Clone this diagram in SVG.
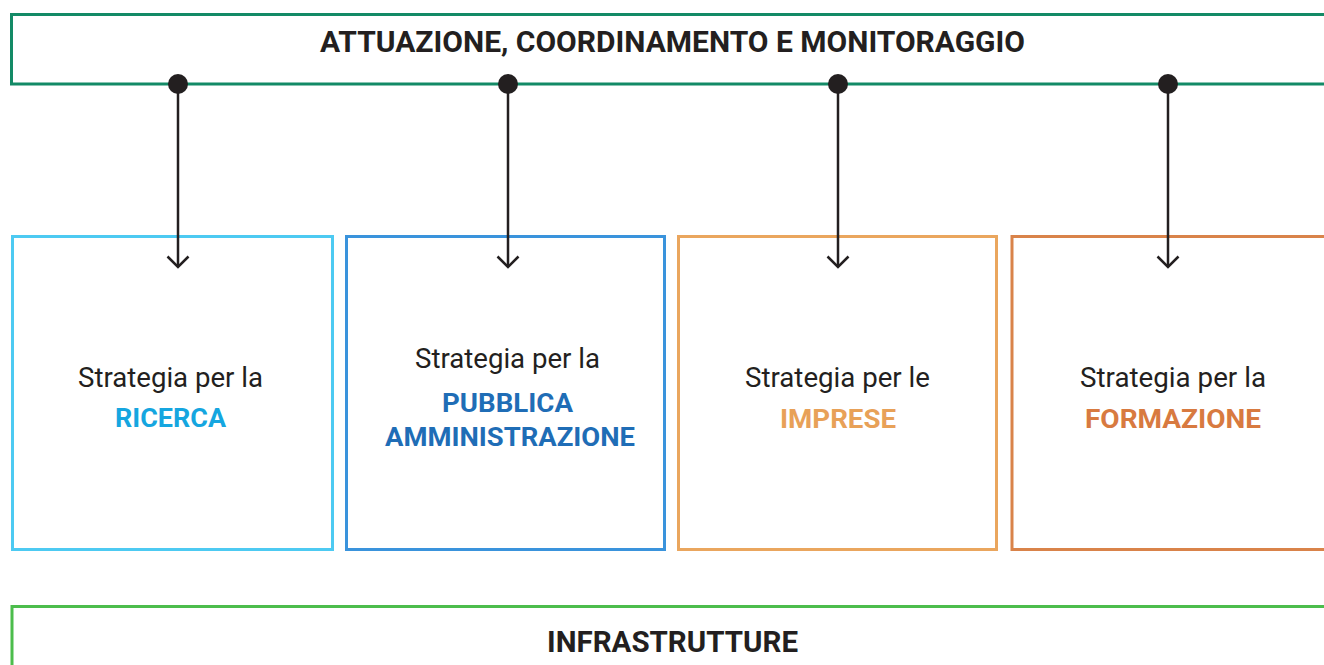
<svg xmlns="http://www.w3.org/2000/svg" width="1324" height="665" viewBox="0 0 1324 665">
<defs>
<style>
.frame{fill:none;stroke-width:3}
.reg{font-family:Roboto,"Noto Sans",sans-serif;font-size:27px;fill:#231f20;text-anchor:middle}
.bold{font-family:Roboto,"Noto Sans",sans-serif;font-weight:bold;font-size:25px;text-anchor:middle}
.head{font-family:Roboto,"Noto Sans",sans-serif;font-weight:bold;font-size:29px;fill:#231f20;text-anchor:middle}
.conn{stroke:#231f20;stroke-width:2.5;fill:none}
.dot{fill:#231f20}
</style>
<marker id="arr" viewBox="0 0 14 24" markerWidth="14" markerHeight="24" refX="12" refY="12" orient="auto" markerUnits="userSpaceOnUse">
<path d="M1.5 1.5 L12 12 L1.5 22.5" fill="none" stroke="#231f20" stroke-width="2.5"/>
</marker>
</defs>
<rect width="1324" height="665" fill="#ffffff"/>
<g id="top">
<path class="frame" stroke="#138a66" d="M1330 14.5 H11.5 V84 H1330"/>
<text class="head" x="672.5" y="52" textLength="705" lengthAdjust="spacingAndGlyphs">ATTUAZIONE, COORDINAMENTO E MONITORAGGIO</text>
</g>
<g id="ricerca">
<rect class="frame" stroke="#4dcaf2" x="12.5" y="236.5" width="320" height="313"/>
<text class="reg" x="170.5" y="387" textLength="185" lengthAdjust="spacingAndGlyphs">Strategia per la</text>
<text class="bold" x="170.5" y="427" fill="#15a6e0" textLength="111" lengthAdjust="spacingAndGlyphs">RICERCA</text>
</g>
<g id="pa">
<rect class="frame" stroke="#3a93dc" x="346.5" y="236.5" width="318" height="313"/>
<text class="reg" x="507.5" y="368" textLength="185" lengthAdjust="spacingAndGlyphs">Strategia per la</text>
<text class="bold" x="507.5" y="412" fill="#1f6db6" textLength="131" lengthAdjust="spacingAndGlyphs">PUBBLICA</text>
<text class="bold" x="510" y="446" fill="#1f6db6" textLength="250" lengthAdjust="spacingAndGlyphs">AMMINISTRAZIONE</text>
</g>
<g id="imprese">
<rect class="frame" stroke="#eaa65e" x="678.5" y="236.5" width="318" height="313"/>
<text class="reg" x="837.5" y="387" textLength="185" lengthAdjust="spacingAndGlyphs">Strategia per le</text>
<text class="bold" x="838" y="428" fill="#e8a158" textLength="116" lengthAdjust="spacingAndGlyphs">IMPRESE</text>
</g>
<g id="formazione">
<path class="frame" stroke="#d9834a" d="M1330 236.5 H1012 V549.5 H1330"/>
<text class="reg" x="1173" y="387" textLength="186" lengthAdjust="spacingAndGlyphs">Strategia per la</text>
<text class="bold" x="1173" y="428" fill="#d87a40" textLength="176" lengthAdjust="spacingAndGlyphs">FORMAZIONE</text>
</g>
<g id="infrastrutture">
<path class="frame" stroke="#4cbd4c" d="M1330 606.5 H12 V670"/>
<text class="head" x="672.5" y="652" textLength="251" lengthAdjust="spacingAndGlyphs">INFRASTRUTTURE</text>
</g>
<g id="connectors">
<line class="conn" x1="178" y1="84" x2="178" y2="267" marker-end="url(#arr)"/>
<line class="conn" x1="508" y1="84" x2="508" y2="267" marker-end="url(#arr)"/>
<line class="conn" x1="838" y1="84" x2="838" y2="267" marker-end="url(#arr)"/>
<line class="conn" x1="1168" y1="84" x2="1168" y2="267" marker-end="url(#arr)"/>
<circle class="dot" cx="178" cy="84" r="10"/>
<circle class="dot" cx="508" cy="84" r="10"/>
<circle class="dot" cx="838" cy="84" r="10"/>
<circle class="dot" cx="1168" cy="84" r="10"/>
</g>
</svg>
